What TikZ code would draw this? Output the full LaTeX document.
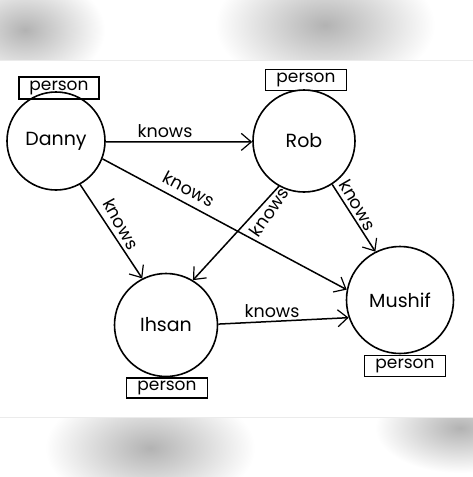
\documentclass[tikz,border=0pt]{standalone}
\usepackage{fontspec}
\setmainfont{Poppins}
\usetikzlibrary{arrows.meta}
\tikzset{
  pnode/.style={draw, circle, line width=1.6pt, inner sep=0pt, font=\fontsize{19}{22}\selectfont},
  tagbox/.style={draw, rectangle, line width=1.5pt, inner sep=0pt, font=\fontsize{17}{19}\selectfont},
  edge/.style={line width=1.5pt, -{Straight Barb[length=10pt,width=17pt,line width=1.2pt]}},
  elabel/.style={inner sep=0pt, font=\fontsize{17.5}{19}\selectfont},
  blob/.style={inner color=black!30, outer color=white}
}
\begin{document}
\begin{tikzpicture}[x=1pt,y=-1pt]
\useasboundingbox (0,0) rectangle (473,477);
\fill[white] (0,0) rectangle (473,477);
% blurred photo background
\begin{scope}
\clip (0,0) rectangle (473,60);
\shade[blob] (25,30) ellipse (80pt and 55pt);
\shade[blob] (325,25) ellipse (110pt and 65pt);
\end{scope}
\draw[black!8, line width=0.8pt] (0,60) -- (473,60);
\begin{scope}
\clip (0,417) rectangle (473,477);
\shade[blob] (150,448) ellipse (105pt and 60pt);
\shade[blob] (460,428) ellipse (85pt and 45pt);
\end{scope}
\draw[black!8, line width=0.8pt] (0,417) -- (473,417);
% persons
\node[pnode, minimum size=98pt] (danny) at (56,141) {Danny};
\node[pnode, minimum size=102pt] (rob) at (304,141) {Rob};
\node[pnode, minimum size=103pt] (ihsan) at (166,325) {Ihsan};
\node[pnode, minimum size=107pt] (mushif) at (400,300) {Mushif};
% tags
\node[tagbox, minimum width=80pt, minimum height=22pt] (tdanny) at (59,88) {person};
\node[tagbox, minimum width=81pt, minimum height=21pt] (trob) at (306,80) {person};
\node[tagbox, minimum width=81pt, minimum height=20pt] (tihsan) at (167,388) {person};
\node[tagbox, minimum width=81pt, minimum height=21pt] (tmushif) at (405,366) {person};
% edges
\draw[edge] (danny.-1) -- (rob.181);
\draw[edge] (danny.-61) -- (ihsan.117);
\draw[edge] (danny.-21) -- (mushif.169);
\draw[edge] (rob.-119) -- (ihsan.59);
\draw[edge] (rob.-57) -- (mushif.117);
\draw[edge] (ihsan.1) -- (mushif.-161);
% edge labels
\node[elabel] (l1) at (165,131) {knows};
\node[elabel, rotate=-61] (l2) at (121,224) {knows};
\node[elabel, rotate=-28] (l3) at (189,189) {knows};
\node[elabel, rotate=55] (l4) at (269,212) {knows};
\node[elabel, rotate=-60] (l5) at (358,205) {knows};
\node[elabel] (l6) at (272,311) {knows};
\end{tikzpicture}
\end{document}
